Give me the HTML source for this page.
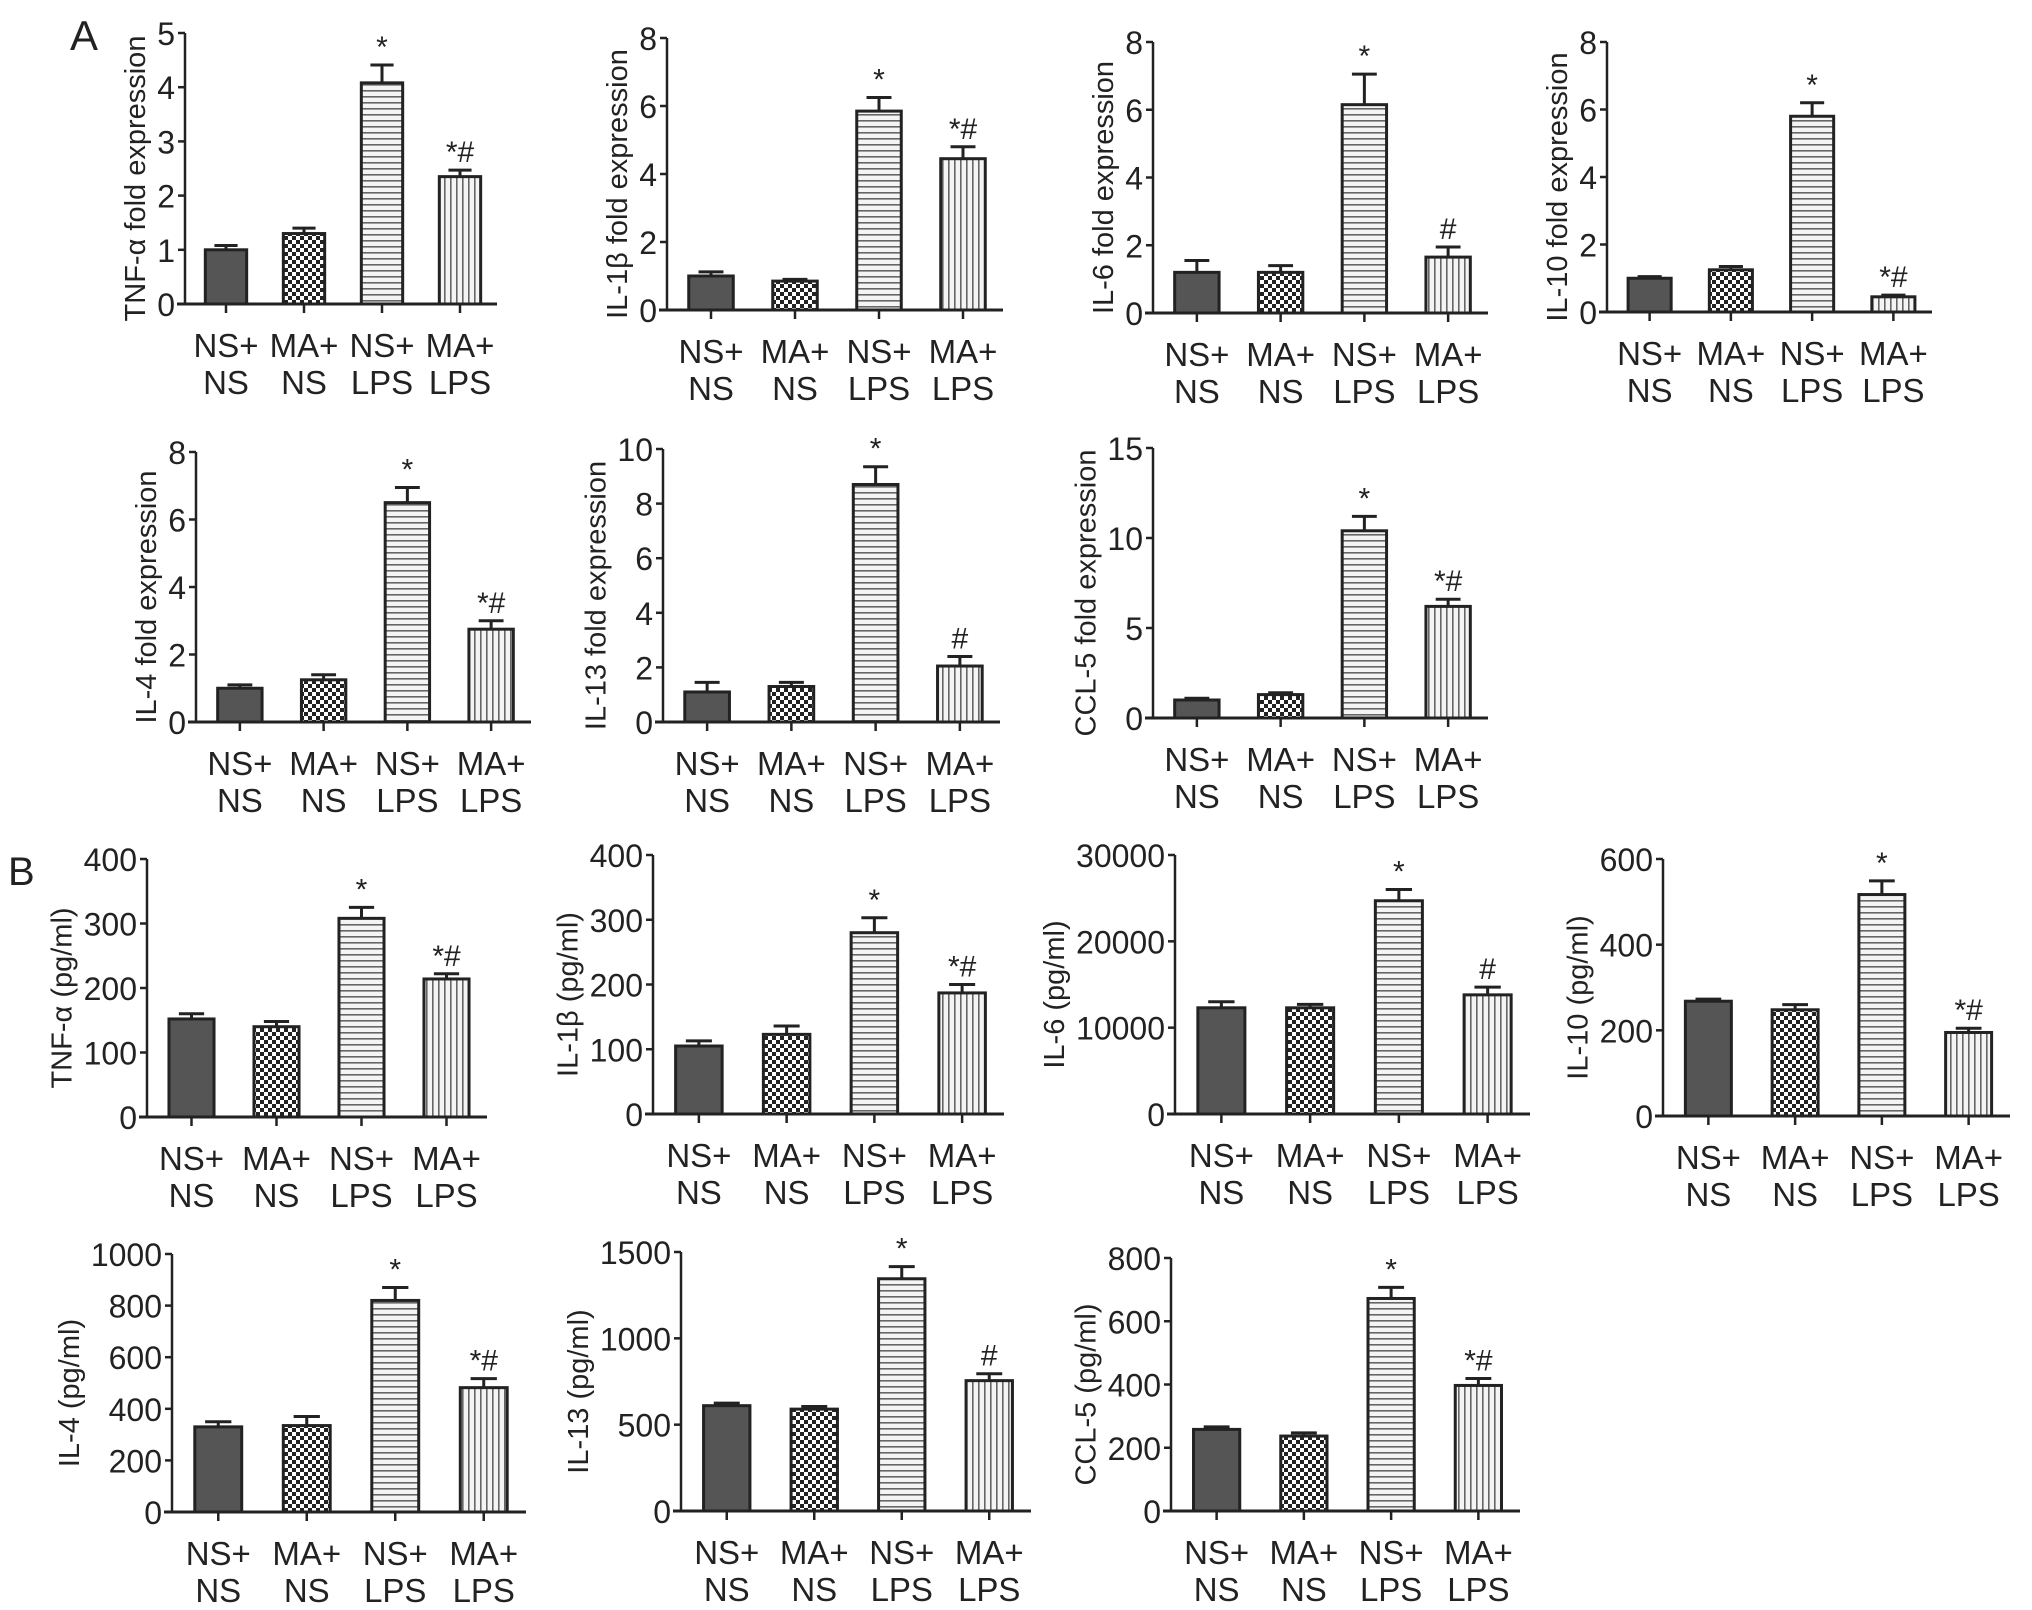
<!DOCTYPE html>
<html><head><meta charset="utf-8">
<style>
html,body{margin:0;padding:0;background:#fff;}
svg{display:block;font-family:"Liberation Sans",Arial,sans-serif;}
</style></head>
<body>
<svg id="fig" width="2032" height="1610" viewBox="0 0 2032 1610" xmlns="http://www.w3.org/2000/svg">
<defs>
<pattern id="pat-check" width="8" height="8" patternUnits="userSpaceOnUse">
<rect width="8" height="8" fill="#fff"/><rect width="4" height="4" fill="#222"/><rect x="4" y="4" width="4" height="4" fill="#222"/>
</pattern>
<pattern id="pat-h" width="8" height="6" patternUnits="userSpaceOnUse">
<rect width="8" height="6" fill="#f4f4f4"/><rect y="0" width="8" height="1.6" fill="#666"/>
</pattern>
<pattern id="pat-v" width="6" height="8" patternUnits="userSpaceOnUse">
<rect width="6" height="8" fill="#f4f4f4"/><rect x="0" width="1.6" height="8" fill="#666"/>
</pattern>
</defs>
<text x="70" y="50" font-size="42" fill="#222">A</text>
<text x="8" y="885" font-size="40" fill="#222">B</text>
</svg>
<script>
// ---- data ----
const categoriesLine1 = ["NS+","MA+","NS+","MA+"];
const categoriesLine2 = ["NS","NS","LPS","LPS"];
const titles = ["TNF-α fold expression","IL-1β fold expression","IL-6 fold expression","IL-10 fold expression","IL-4 fold expression","IL-13 fold expression","CCL-5 fold expression","TNF-α (pg/ml)","IL-1β (pg/ml)","IL-6 (pg/ml)","IL-10 (pg/ml)","IL-4 (pg/ml)","IL-13 (pg/ml)","CCL-5 (pg/ml)"];
const yMax = [5,8,8,8,8,10,15,400,400,30000,600,1000,1500,800];
const yStep = [1,2,2,2,2,2,5,100,100,10000,200,200,500,200];
const means = [
[1.0,1.3,4.08,2.35],[1.0,0.85,5.85,4.45],[1.2,1.2,6.15,1.65],[1.0,1.25,5.8,0.45],
[1.0,1.25,6.5,2.75],[1.1,1.3,8.7,2.05],[1.0,1.3,10.4,6.2],
[152,140,308,214],[105,123,280,187],[12300,12300,24700,13800],[268,248,517,195],
[330,335,820,482],[610,590,1345,755],[258,237,672,397]];
const errors = [
[0.08,0.1,0.33,0.12],[0.12,0.05,0.4,0.35],[0.35,0.2,0.9,0.3],[0.05,0.1,0.4,0.05],
[0.1,0.15,0.45,0.25],[0.35,0.15,0.65,0.35],[0.1,0.1,0.8,0.4],
[8,8,17,8],[8,13,23,13],[700,400,1300,900],[5,12,32,10],
[20,35,50,35],[15,15,70,40],[8,10,35,22]];
const marks = [
["","","*","*#"],["","","*","*#"],["","","*","#"],["","","*","*#"],
["","","*","*#"],["","","*","#"],["","","*","*#"],
["","","*","*#"],["","","*","*#"],["","","*","#"],["","","*","*#"],
["","","*","*#"],["","","*","#"],["","","*","*#"]];
// layout (not data): axisX, topY, zeroY, endX
const layout = [
[185,33,304,497],[667,38,310,1003],[1153,42,313,1488],[1607,42,312,1932],
[196,452,722,531],[663,449,722,1000],[1153,448,718,1488],
[147,859,1117,487],[653,855,1114,1004],[1175,855,1114,1530],[1663,859,1116,2010],
[172,1254,1512,526],[681,1252,1511,1031],[1171,1258,1511,1520]];
const fills = ["#555","url(#pat-check)","url(#pat-h)","url(#pat-v)"];
const NS="http://www.w3.org/2000/svg";
const svg=document.getElementById('fig');
function mk(tag,attrs,parent){const e=document.createElementNS(NS,tag);for(const k in attrs)e.setAttribute(k,attrs[k]);(parent||svg).appendChild(e);return e;}
const col="#222";
titles.forEach((t,p)=>{
  const [ax,top,zero,end]=layout[p];
  const g=mk('g',{});
  
  
  const y=v=>zero-(v/yMax[p])*(zero-top);
  const slot=(end-ax)/4, bw=slot*0.53;
  const xc=i=>ax+slot*(i+0.5)+2;
  means[p].forEach((v,i)=>{
    const b=mk('rect',{x:xc(i)-bw/2,y:y(v),width:bw,height:zero-y(v),fill:fills[i],stroke:col,'stroke-width':3},g);
    
    
    const et=y(v+errors[p][i]);
    const eb=mk('path',{d:`M${xc(i)} ${y(v)} V${et} M${xc(i)-bw*0.28} ${et} H${xc(i)+bw*0.28}`,stroke:col,'stroke-width':3,fill:'none'},g);
    
    
    if(marks[p][i]){
      const m=mk('text',{x:xc(i),y:et-8,'text-anchor':'middle','font-size':30,fill:col},g);
      m.textContent=marks[p][i];
      
      
    }
    mk('line',{x1:xc(i),x2:xc(i),y1:zero,y2:zero+9,stroke:col,'stroke-width':2.5},g);
    const l1=mk('text',{x:xc(i),y:zero+53,'text-anchor':'middle','font-size':33,fill:col},g);
    l1.textContent=categoriesLine1[i];
    
    
    const l2=mk('text',{x:xc(i),y:zero+90,'text-anchor':'middle','font-size':33,fill:col},g);
    l2.textContent=categoriesLine2[i];
    
    
  });
  const yax=mk('line',{x1:ax,x2:ax,y1:top,y2:zero,stroke:col,'stroke-width':2.5},g);
  
  
  const xax=mk('line',{x1:ax-8,x2:end,y1:zero,y2:zero,stroke:col,'stroke-width':3},g);
  
  
  let maxw=0;
  for(let v=0;v<=yMax[p]+1e-9;v+=yStep[p]){
    mk('line',{x1:ax-7,x2:ax,y1:y(v),y2:y(v),stroke:col,'stroke-width':2.5},g);
    const s=String(v);
    maxw=Math.max(maxw,s.length);
    const tl=mk('text',{x:ax-10,y:y(v)+12,'text-anchor':'end','font-size':32,fill:col},g);
    tl.textContent=s;
    
    
  }
  const tx=ax-10-maxw*17.8-12, ty=(top+zero)/2+10;
  const tt=mk('text',{x:tx,y:ty,'text-anchor':'middle','font-size':29,fill:col,transform:`rotate(-90 ${tx} ${ty})`},g);
  tt.textContent=t;
  
  
});
</script>
</body></html>
